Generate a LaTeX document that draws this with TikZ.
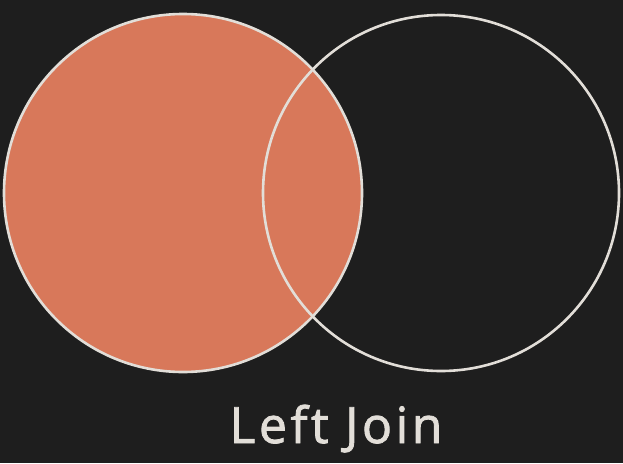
\documentclass[tikz,border=0pt]{standalone}
\usepackage{fontspec}
\setmainfont{Open Sans}
\newfontfamily\labelfont[FakeBold=1.6,LetterSpace=7]{Open Sans}
\definecolor{bg}{HTML}{1E1E1E}
\definecolor{fillor}{HTML}{D8785A}
\definecolor{edge}{HTML}{E2DED8}
\begin{document}
\begin{tikzpicture}[x=1pt,y=-1pt,
  ring/.style={draw=edge,line width=2.6pt},
  label/.style={text=edge,font=\labelfont\fontsize{50}{58}\selectfont,inner sep=0pt,anchor=base}]
\fill[bg] (0,0) rectangle (623,463);
\useasboundingbox (0,0) rectangle (623,463);
\coordinate (lc) at (183,193);
\coordinate (rc) at (441,193);
\fill[fillor] (lc) circle[radius=179];
\draw[ring] (lc) circle[radius=179];
\draw[ring] (rc) circle[radius=178];
\node[label] (t) at (336,443) {Left Join};
\end{tikzpicture}
\end{document}
